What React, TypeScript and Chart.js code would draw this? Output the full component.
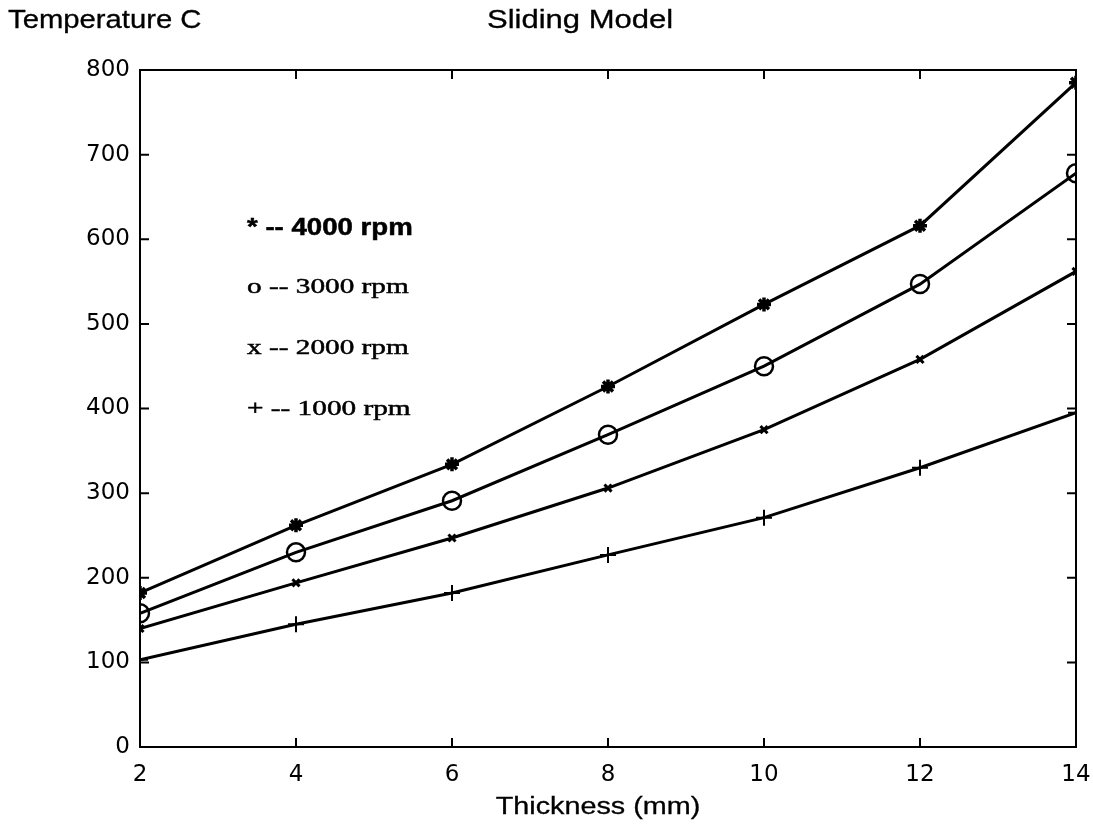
import React, { useEffect, useRef } from "react";
import { Chart, registerables } from "chart.js";

Chart.register(...registerables);

// ---- data ----
const thickness = [2, 4, 6, 8, 10, 12, 14];
const temp4000 = [182, 262, 334, 426, 523, 616, 785];
const temp3000 = [158, 230, 291, 369, 450, 547, 678];
const temp2000 = [140, 194, 247, 306, 375, 458, 562];
const temp1000 = [103, 145, 182, 227, 271, 330, 395];

const seriesNames = ["4000 rpm", "3000 rpm", "2000 rpm", "1000 rpm"];
const legendLines = ["* -- 4000 rpm", "o -- 3000 rpm", "x -- 2000 rpm", "+ -- 1000 rpm"];
const xTickValues = [2, 4, 6, 8, 10, 12, 14];
const yTickValues = [0, 100, 200, 300, 400, 500, 600, 700, 800];

const titleLeft = "Temperature C";
const titleCenter = "Sliding Model";
const xAxisTitle = "Thickness (mm)";

function drawStretched(
  ctx: CanvasRenderingContext2D,
  text: string,
  x: number,
  y: number,
  font: string,
  sx: number,
  align: CanvasTextAlign = "left",
  thicken = 0.3
) {
  ctx.save();
  ctx.font = font;
  ctx.textAlign = align;
  ctx.textBaseline = "alphabetic";
  ctx.translate(x, y);
  ctx.scale(sx, 1);
  ctx.fillText(text, 0, 0);
  if (thicken > 0) {
    ctx.lineWidth = thicken;
    ctx.strokeStyle = "#000";
    ctx.strokeText(text, 0, 0);
  }
  ctx.restore();
}

const framePlugin = {
  id: "matlabFrame",
  afterDraw(chart: any) {
    const { ctx, chartArea: a, scales } = chart;
    ctx.save();
    ctx.strokeStyle = "#000";
    ctx.lineWidth = 2;
    ctx.strokeRect(a.left, a.top, a.right - a.left, a.bottom - a.top);
    const t = 9;
    ctx.beginPath();
    for (const v of xTickValues) {
      const x = scales.x.getPixelForValue(v);
      ctx.moveTo(x, a.bottom);
      ctx.lineTo(x, a.bottom - t);
      ctx.moveTo(x, a.top);
      ctx.lineTo(x, a.top + t);
    }
    for (const v of yTickValues) {
      const y = scales.y.getPixelForValue(v);
      ctx.moveTo(a.left, y);
      ctx.lineTo(a.left + t, y);
      ctx.moveTo(a.right, y);
      ctx.lineTo(a.right - t, y);
    }
    ctx.stroke();

    ctx.fillStyle = "#000";
    const sans = "'Liberation Sans', Arial, sans-serif";
    const serif = "'Liberation Serif', 'Times New Roman', serif";
    drawStretched(ctx, titleLeft, 8, 28, `25px ${sans}`, 1.17);
    drawStretched(ctx, titleCenter, 487, 28, `25px ${sans}`, 1.24);
    drawStretched(ctx, xAxisTitle, 598, 814, `23px ${sans}`, 1.25, "center");

    drawStretched(ctx, legendLines[0], 247, 235, `600 23px ${sans}`, 1.2, "left", 0.5);
    drawStretched(ctx, legendLines[1], 247, 293, `22px ${serif}`, 1.33, "left", 0.5);
    drawStretched(ctx, legendLines[2], 247, 354, `22px ${serif}`, 1.33, "left", 0.5);
    drawStretched(ctx, legendLines[3], 247, 415, `22px ${serif}`, 1.33, "left", 0.5);
    ctx.restore();
  },
};

export default function App() {
  const ref = useRef<HTMLCanvasElement | null>(null);
  useEffect(() => {
    if (!ref.current) return;
    const mk = (label: string, data: number[], style: any, radius: number, bw: number) => ({
      label,
      data: thickness.map((x, i) => ({ x, y: data[i] })),
      borderColor: "#000",
      borderWidth: 3,
      pointStyle: style,
      pointRadius: radius,
      pointBorderWidth: bw,
      pointBorderColor: "#000",
      pointBackgroundColor: "rgba(0,0,0,0)",
      tension: 0,
      fill: false,
    });
    const tickFont = { family: "'DejaVu Sans', sans-serif", size: 23 };
    const chart = new Chart(ref.current, {
      type: "line",
      data: {
        datasets: [
          mk(seriesNames[0], temp4000, "star", 7, 3.5),
          mk(seriesNames[1], temp3000, "circle", 9, 2.5),
          mk(seriesNames[2], temp2000, "crossRot", 5, 3),
          mk(seriesNames[3], temp1000, "cross", 8, 2),
        ],
      },
      options: {
        animation: false,
        responsive: false,
        devicePixelRatio: 1,
        layout: { padding: { top: 70, right: 17, left: 0, bottom: 0 } },
        plugins: { legend: { display: false }, title: { display: false }, tooltip: { enabled: false } },
        scales: {
          x: {
            type: "linear",
            min: 2,
            max: 14,
            afterBuildTicks: (s: any) => {
              s.ticks = xTickValues.map((v) => ({ value: v }));
            },
            afterFit: (s: any) => {
              s.height = 80;
              s.paddingLeft = 0;
              s.paddingRight = 0;
            },
            grid: { display: false, drawTicks: false },
            border: { display: false },
            ticks: { color: "#000", font: tickFont, padding: 14, maxRotation: 0, autoSkip: false },
          },
          y: {
            type: "linear",
            min: 0,
            max: 800,
            afterBuildTicks: (s: any) => {
              s.ticks = yTickValues.map((v) => ({ value: v }));
            },
            afterFit: (s: any) => {
              s.width = 140;
              s.paddingTop = 0;
              s.paddingBottom = 0;
            },
            grid: { display: false, drawTicks: false },
            border: { display: false },
            ticks: { color: "#000", font: tickFont, padding: 10, autoSkip: false },
          },
        },
      },
      plugins: [framePlugin],
    } as any);
    return () => chart.destroy();
  }, []);
  return (
    <div style={{ position: "absolute", left: 0, top: 0, width: 1093, height: 827, background: "#fff" }}>
      <canvas ref={ref} width={1093} height={827} style={{ display: "block" }} />
    </div>
  );
}
